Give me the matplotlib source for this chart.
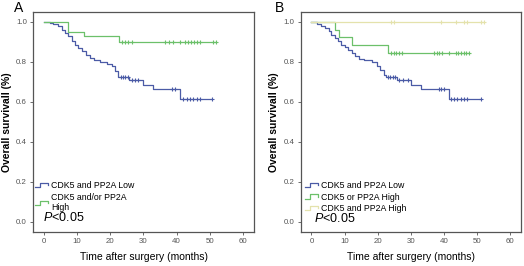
import matplotlib
matplotlib.use("Agg")
import matplotlib.pyplot as plt
from matplotlib.legend_handler import HandlerBase
from matplotlib.lines import Line2D

plt.rcParams['font.family'] = ['Liberation Sans', 'DejaVu Sans']
plt.rcParams['mathtext.fontset'] = 'custom'
plt.rcParams['mathtext.it'] = 'Liberation Sans:italic'
plt.rcParams['mathtext.rm'] = 'Liberation Sans'

# ---- data (months, survival proportion) ----
# Panel A
a_low_t = [0, 1.9, 2.9, 4.4, 5.4, 6.4, 7.4, 8.4, 9.4, 10.4, 11.5, 12.8, 13.8, 15.0,
           17.0, 19.0, 20.5, 21.5, 22.5, 25.8, 30.0, 33.0, 41.1, 50.7]
a_low_s = [1.0, 0.995, 0.988, 0.978, 0.962, 0.945, 0.928, 0.903, 0.887, 0.870, 0.853,
           0.837, 0.820, 0.808, 0.800, 0.790, 0.778, 0.753, 0.727, 0.708, 0.687, 0.667,
           0.613, 0.613]
a_low_cens_t = [23.2, 23.9, 24.6, 25.3, 26.6, 27.5, 28.5, 38.6, 39.5,
                42.0, 43.0, 44.0, 45.0, 46.0, 47.0, 50.7]
a_low_cens_s = [0.727] * 4 + [0.708] * 3 + [0.667] * 2 + [0.613] * 7

a_high_t = [0, 7.2, 12.0, 22.8, 52.0]
a_high_s = [1.0, 0.950, 0.928, 0.902, 0.902]
a_high_cens_t = [23.6, 24.5, 25.4, 26.5, 36.6, 37.6, 38.8, 41.1,
                 42.6, 43.5, 44.4, 45.3, 46.2, 47.1, 51.1, 52.0]
a_high_cens_s = [0.902] * len(a_high_cens_t)

# Panel B
b_low_t = [0, 1.7, 3.0, 4.2, 5.2, 6.0, 7.0, 8.0, 9.0, 10.0, 11.1, 12.1, 13.1, 14.3,
           15.8, 18.3, 19.8, 20.8, 21.8, 22.5, 25.8, 29.9, 32.9, 41.4, 51.0]
b_low_s = [1.0, 0.992, 0.982, 0.970, 0.953, 0.937, 0.920, 0.903, 0.887, 0.873, 0.858,
           0.845, 0.828, 0.815, 0.808, 0.798, 0.782, 0.758, 0.737, 0.725, 0.708, 0.687,
           0.667, 0.613, 0.613]
b_low_cens_t = [23.0, 23.8, 24.6, 25.3, 26.5, 27.5, 29.0, 38.4, 39.2, 39.9,
                42.0, 43.0, 44.0, 45.0, 46.0, 47.0, 51.0]
b_low_cens_s = [0.725] * 4 + [0.708] * 3 + [0.667] * 3 + [0.613] * 7

b_mid_t = [0, 7.0, 8.2, 12.1, 23.1, 47.4]
b_mid_s = [1.0, 0.962, 0.923, 0.885, 0.846, 0.846]
b_mid_cens_t = [24.0, 24.8, 25.6, 26.4, 27.2, 37.0, 37.8, 38.6, 39.4, 41.4,
                43.5, 44.3, 45.1, 45.9, 46.7, 47.4]
b_mid_cens_s = [0.846] * len(b_mid_cens_t)

b_high_t = [0, 52.0]
b_high_s = [1.0, 1.0]
b_high_cens_t = [24.0, 25.0, 39.0, 43.5, 46.0, 47.0, 51.0, 52.0]
b_high_cens_s = [1.0] * len(b_high_cens_t)

labels_a = ["CDK5 and PP2A Low", "CDK5 and/or PP2A\nHigh"]
labels_b = ["CDK5 and PP2A Low", "CDK5 or PP2A High", "CDK5 and PP2A High"]

BLUE = "#4b5ba6"
GREEN = "#6cc06a"
KHAKI = "#e4e2ac"


class StepHandler(HandlerBase):
    # SPSS-style step symbol for the legend
    def create_artists(self, legend, orig_handle, xdescent, ydescent,
                       width, height, fontsize, trans):
        x0 = -xdescent
        y0 = -ydescent
        xs = [x0, x0 + 0.35 * width, x0 + 0.35 * width, x0 + width, x0 + width]
        ys = [y0 + 0.15 * height, y0 + 0.15 * height, y0 + 0.85 * height,
              y0 + 0.85 * height, y0 + 0.45 * height]
        ln = Line2D(xs, ys, color=orig_handle.get_color(), lw=0.9, transform=trans)
        return [ln]


def km(ax, t, s, ct, cs, color):
    ln, = ax.step(t, s, where='post', color=color, lw=0.9)
    ax.plot(ct, cs, linestyle='none', marker='+', ms=3.5, mew=0.8, color=color)
    return ln


def style(ax):
    ax.set_xlim(-3.2, 63.3)
    ax.set_ylim(-0.05, 1.05)
    ax.set_xticks(range(0, 61, 10))
    ax.set_yticks([0.0, 0.2, 0.4, 0.6, 0.8, 1.0])
    ax.set_yticklabels(["0.0", "0.2", "0.4", "0.6", "0.8", "1.0"])
    ax.tick_params(labelsize=5.7, colors="#555555", length=2.5, width=0.6, pad=2)
    for sp in ax.spines.values():
        sp.set_color("#555555")
        sp.set_linewidth(0.9)
    ax.set_xlabel("Time after surgery (months)", fontsize=7.5, labelpad=5)
    ax.set_ylabel("Overall survivall (%)", fontsize=7.5, fontweight='bold', labelpad=3)


fig = plt.figure(figsize=(5.24, 2.66), dpi=100)
ax1 = fig.add_axes([0.063, 0.128, 0.4218, 0.827])
ax2 = fig.add_axes([0.574, 0.128, 0.421, 0.827])

h1 = km(ax1, a_low_t, a_low_s, a_low_cens_t, a_low_cens_s, BLUE)
h2 = km(ax1, a_high_t, a_high_s, a_high_cens_t, a_high_cens_s, GREEN)
style(ax1)
ax1.legend([h1, h2], labels_a, loc='upper left', bbox_to_anchor=(-0.005, 0.247),
           frameon=False, fontsize=6.3, handlelength=1.4, handletextpad=0.4,
           labelspacing=0.3, borderaxespad=0, handler_map={Line2D: StepHandler()})
ax1.text(0.045, 0.064, r"$\it{P}$<0.05", transform=ax1.transAxes, fontsize=9,
         va='center', ha='left')

g1 = km(ax2, b_low_t, b_low_s, b_low_cens_t, b_low_cens_s, BLUE)
g2 = km(ax2, b_mid_t, b_mid_s, b_mid_cens_t, b_mid_cens_s, GREEN)
g3 = km(ax2, b_high_t, b_high_s, b_high_cens_t, b_high_cens_s, KHAKI)
style(ax2)
ax2.legend([g1, g2, g3], labels_b, loc='upper left', bbox_to_anchor=(0.005, 0.248),
           frameon=False, fontsize=6.3, handlelength=1.4, handletextpad=0.4,
           labelspacing=0.3, borderaxespad=0, handler_map={Line2D: StepHandler()})
ax2.text(0.059, 0.059, r"$\it{P}$<0.05", transform=ax2.transAxes, fontsize=9,
         va='center', ha='left')

fig.text(19 / 524, 1 - 8 / 266, "A", fontsize=10, ha='center', va='center')
fig.text(279 / 524, 1 - 8 / 266, "B", fontsize=10, ha='center', va='center')

fig.savefig("out.png", dpi=100)
